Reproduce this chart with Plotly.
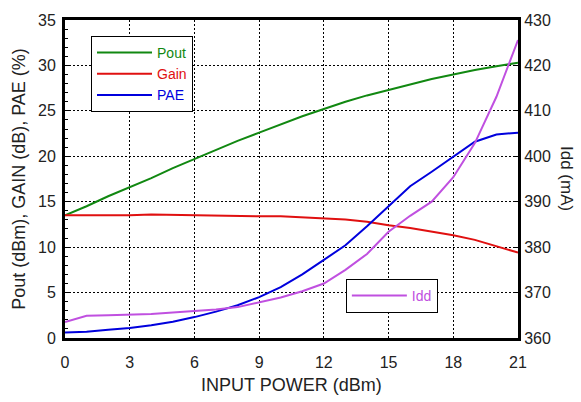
import plotly.graph_objects as go

pin = list(range(0, 22))
pout = [13.5, 14.5, 15.6, 16.6, 17.6, 18.7, 19.7, 20.7, 21.7, 22.6, 23.5,
        24.4, 25.2, 26.0, 26.7, 27.3, 27.9, 28.5, 29.0, 29.5, 29.9, 30.3]
gain = [13.5, 13.5, 13.5, 13.5, 13.6, 13.55, 13.5, 13.5, 13.45, 13.4, 13.4,
        13.3, 13.2, 13.05, 12.8, 12.4, 12.1, 11.7, 11.3, 10.8, 10.1, 9.4]
pae = [0.6, 0.7, 0.9, 1.1, 1.4, 1.8, 2.3, 2.9, 3.6, 4.5, 5.6,
       7.0, 8.6, 10.2, 12.3, 14.5, 16.7, 18.3, 20.0, 21.6, 22.4, 22.6]
idd = [363.5, 364.9, 365.0, 365.1, 365.3, 365.6, 365.9, 366.3, 366.8, 367.9, 368.9,
       370.3, 372.0, 375.0, 378.5, 383.4, 386.9, 390.0, 395.4, 402.9, 413.1, 425.6]

x_ticks = [0, 3, 6, 9, 12, 15, 18, 21]

FONT = "Liberation Sans, Arial, sans-serif"
C_POUT, C_GAIN, C_PAE, C_IDD = "#118811", "#e01010", "#0000dd", "#c050e0"
TICKFONT = dict(family=FONT, size=16, color="#222")

fig = go.Figure()
fig.add_trace(go.Scatter(x=pin, y=pout, mode="lines", line=dict(color=C_POUT, width=2),
                         name=f"<span style='color:{C_POUT}'>Pout</span>", legend="legend"))
fig.add_trace(go.Scatter(x=pin, y=gain, mode="lines", line=dict(color=C_GAIN, width=2),
                         name=f"<span style='color:{C_GAIN}'>Gain</span>", legend="legend"))
fig.add_trace(go.Scatter(x=pin, y=pae, mode="lines", line=dict(color=C_PAE, width=2),
                         name=f"<span style='color:{C_PAE}'>PAE</span>", legend="legend"))
fig.add_trace(go.Scatter(x=pin, y=idd, mode="lines", line=dict(color=C_IDD, width=2),
                         name=f"<span style='color:{C_IDD}'>Idd</span>", legend="legend2",
                         yaxis="y2"))

fig.update_layout(
    width=581, height=402,
    margin=dict(l=65, r=63, t=20, b=64, autoexpand=False),
    paper_bgcolor="white", plot_bgcolor="white",
    font=dict(family=FONT, size=15, color="#222"),
    xaxis=dict(range=[0, 21], tickvals=x_ticks, showline=True, linewidth=3, linecolor="black",
               mirror=True, showgrid=True, gridcolor="black", griddash="2px,2px", gridwidth=1,
               ticks="", zeroline=False, automargin=False, tickfont=TICKFONT,
               ticklabelstandoff=8),
    yaxis=dict(range=[0, 35], dtick=5, showline=True, linewidth=3, linecolor="black",
               mirror=True, showgrid=True, gridcolor="black", griddash="2px,2px", gridwidth=1,
               ticks="inside", ticklen=4, tickcolor="black", zeroline=False, automargin=False,
               tickfont=TICKFONT, ticklabelstandoff=3,
               minor=dict(dtick=1, ticks="inside", ticklen=3, tickcolor="black", showgrid=False),
               title=dict(text="Pout (dBm), GAIN (dB), PAE (%)", standoff=8)),
    yaxis2=dict(range=[360, 430], dtick=10, overlaying="y", side="right", showline=True,
                linewidth=3, linecolor="black", showgrid=False, zeroline=False,
                ticks="inside", ticklen=4, tickcolor="black", automargin=False,
                tickfont=TICKFONT),
    legend=dict(x=0.0574, y=0.95, xanchor="left", yanchor="top", bgcolor="white",
                bordercolor="black", borderwidth=1, itemwidth=55,
                font=dict(family=FONT, size=14), tracegroupgap=0),
    legend2=dict(x=0.62, y=0.1855, xanchor="left", yanchor="top", bgcolor="white",
                 bordercolor="black", borderwidth=1, itemwidth=55,
                 font=dict(family=FONT, size=14)),
    annotations=[
        dict(text="Idd (mA)", textangle=90, x=(567 - 65) / 453, y=(338 - 178) / 318,
             xref="paper", yref="paper", xanchor="center", yanchor="middle",
             showarrow=False, font=dict(family=FONT, size=17, color="#222")),
        dict(text="INPUT POWER (dBm)", x=0.5, y=(338 - 385) / 318,
             xref="paper", yref="paper", xanchor="center", yanchor="middle",
             showarrow=False, font=dict(family=FONT, size=18, color="#222")),
    ],
)

fig.write_html("out.html", config={"displayModeBar": False},
               post_script="document.body.style.margin='0';document.body.style.overflow='hidden';")
